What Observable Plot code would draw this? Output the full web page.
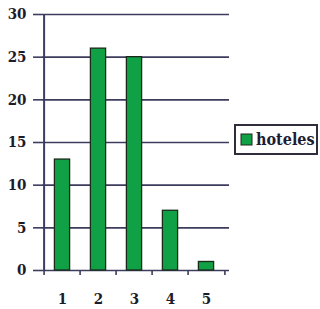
<!DOCTYPE html>
<html>
<head>
<meta charset="utf-8">
<script src="https://cdn.jsdelivr.net/npm/d3@7"></script>
<script src="https://cdn.jsdelivr.net/npm/@observablehq/plot@0.6"></script>
<style>
  html, body { margin: 0; padding: 0; background: #fff; }
  #wrap { position: relative; width: 320px; height: 309px; overflow: hidden; background: #fff; }
  #wrap svg text { font-family: "DejaVu Serif Condensed", "DejaVu Serif", serif !important; }
  #legendbox { position: absolute; left: 234px; top: 124px; width: 80px; height: 27px;
    border: 2px solid #2e2e3c; box-sizing: content-box; }
  #legend { position: absolute; left: 233px; top: 123px; overflow: visible; }
</style>
</head>
<body>
<div id="wrap"></div>
<script>
const categories = [1, 2, 3, 4, 5];
const hoteles = [13, 26, 25, 7, 1];
const yTicks = [0, 5, 10, 15, 20, 25, 30];
const seriesName = "hoteles";

const data = categories.map((c, i) => ({cat: c, value: hoteles[i]}));
const lineColor = "#3c3c5e";
const barFill = "#10a045";
const half = (226 - 42) / 5 / 2;

const chart = Plot.plot({
  width: 320,
  height: 309,
  marginLeft: 42,
  marginRight: 94,
  marginTop: 14,
  marginBottom: 39,
  style: {fontFamily: "DejaVu Serif Condensed", fontWeight: "bold", fontSize: "15px", color: "#1c1c2c", background: "transparent"},
  x: {type: "band", domain: categories, padding: 0},
  y: {domain: [0, 30]},
  marks: [
    Plot.ruleY(yTicks, {stroke: lineColor, strokeWidth: 1.6, insetRight: -3}),
    Plot.barY(data, {x: "cat", y: "value", fill: barFill, stroke: "#1a2a1a", strokeWidth: 1.3, insetLeft: 10.4, insetRight: 10.4}),
    Plot.ruleX([0], {x: () => categories[0], dx: -half, y1: 0, y2: 30, stroke: lineColor, strokeWidth: 2}),
    Plot.axisY({ticks: yTicks, tickSize: 9, tickPadding: 7, stroke: lineColor, strokeWidth: 1.6, label: null, fill: "#1c1c2c"}),
    Plot.axisX({ticks: categories, tickSize: 5, text: null, dx: -half, stroke: lineColor, strokeWidth: 1.6, label: null}),
    Plot.axisX({ticks: [categories[categories.length - 1]], tickSize: 5, text: null, dx: half, stroke: lineColor, strokeWidth: 1.6, label: null}),
    Plot.axisX({ticks: categories, tickSize: 0, tickPadding: 23, label: null, fill: "#1c1c2c"})
  ]
});
const wrap = document.getElementById("wrap");
wrap.appendChild(chart);

const boxDiv = document.createElement("div");
boxDiv.id = "legendbox";
wrap.appendChild(boxDiv);

const ns = "http://www.w3.org/2000/svg";
const lg = document.createElementNS(ns, "svg");
lg.setAttribute("id", "legend");
lg.setAttribute("width", "86");
lg.setAttribute("height", "34");
const box = document.createElementNS(ns, "path");
box.setAttribute("d", "M2,2H84V31H2Z");
box.setAttribute("fill", "none"); box.setAttribute("stroke", "#2e2e3c"); box.setAttribute("stroke-width", "2");
lg.appendChild(box);
const sw = document.createElementNS(ns, "rect");
sw.setAttribute("x", "8"); sw.setAttribute("y", "11");
sw.setAttribute("width", "11"); sw.setAttribute("height", "11");
sw.setAttribute("fill", barFill); sw.setAttribute("stroke", "#1a2a1a"); sw.setAttribute("stroke-width", "1");
lg.appendChild(sw);
const tx = document.createElementNS(ns, "text");
tx.setAttribute("x", "23"); tx.setAttribute("y", "22");
tx.setAttribute("font-family", "DejaVu Serif Condensed, DejaVu Serif, serif");
tx.setAttribute("font-weight", "bold"); tx.setAttribute("font-size", "16");
tx.setAttribute("fill", "#1c1c34");
tx.textContent = seriesName;
lg.appendChild(tx);
wrap.appendChild(lg);
</script>
</body>
</html>
